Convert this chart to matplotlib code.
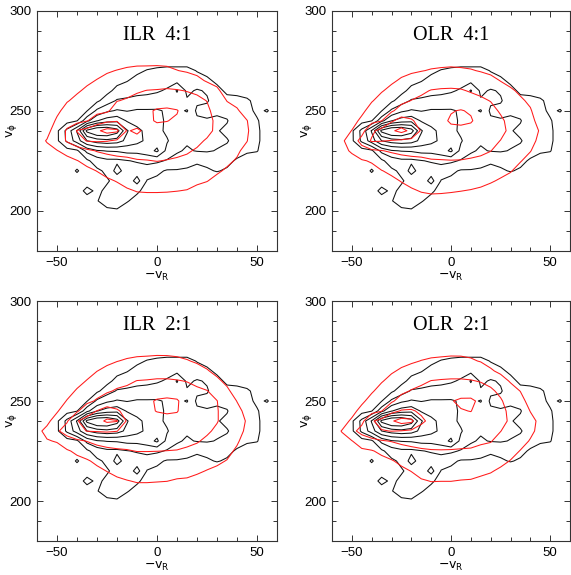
import numpy as np
import matplotlib
matplotlib.use("Agg")
import matplotlib.pyplot as plt
from matplotlib.ticker import MultipleLocator

# ---------------- data ----------------
# observed (black) density grid: x = -v_R, y = v_phi
obs_x = list(range(-60, 61, 5))
obs_y = list(range(195, 281, 5))
obs_density = [
    [0]*25,
    [0,0,0,0,0,0,0,0.3,0.4,0.2,0,0,0,0,0,0,0,0,0,0,0,0,0,0,0],
    [0,0,0,0,0,0,0.45,0.9,0.9,0.55,0.3,0,0,0,0,0,0,0,0,0,0,0,0,0,0],
    [0,0,0,0,0,0.8,0.3,0.7,0.8,0.9,0.6,0.3,0,0,0,0,0,0,0,0,0,0,0,0,0],
    [0,0,0,0,0,0,0.2,0.4,0.8,0.8,1.9,0.45,0.3,0,0,0,0,0,0,0,0,0,0,0,0],
    [0,0,0,0,0.6,0,0.3,0.7,1.9,1.0,1.0,1.0,0.7,0.4,0.4,0.3,0.3,0.4,0.55,0.4,0,0,0,0,0],
    [0,0,0,0,0,0.3,1.0,1.3,1.3,1.45,1.6,1.8,1.7,1.4,1.2,1.0,0.6,0.7,0.8,0.7,0.4,0.2,0,0,0],
    [0,0,0,0.1,0.3,1.8,2.4,2.55,2.6,2.8,2.8,3.0,3.7,2.2,1.6,1.4,1.55,1.6,1.45,1.2,0.8,0.6,0.55,0,0],
    [0,0,0.3,1.7,3.0,4.5,5.0,5.2,5.0,4.2,3.8,3.3,3.0,2.6,1.9,1.6,1.6,1.7,1.7,1.6,1.0,0.8,0.7,0,0],
    [0,0,0.3,1.8,3.6,6.8,7.8,7.8,7.0,4.6,3.7,3.3,2.8,2.3,1.9,1.7,1.6,1.7,1.6,1.2,0.8,0.9,0.7,0,0],
    [0,0,0,0.1,0.45,2.2,3.45,4.0,4.2,3.4,3.2,2.9,2.7,2.4,2.0,1.8,1.7,1.6,1.7,1.6,0.6,0.8,0.6,0,0],
    [0,0,0,0,0,0.45,1.7,2.3,2.6,2.45,2.6,2.6,2.6,2.4,2.2,2.6,1.3,1.2,1.3,1.0,0.9,0.8,0.3,0.58,0],
    [0,0,0,0,0,0,0.3,1.0,1.6,1.7,1.8,1.8,1.9,2.0,2.0,1.6,1.7,1.6,1.0,0.8,0.7,0.6,0.3,0,0],
    [0,0,0,0,0,0,0,0.2,0.8,1.0,1.2,1.3,1.4,1.6,2.6,1.3,1.6,1.4,0.8,0.3,0.3,0.2,0,0,0],
    [0,0,0,0,0,0,0,0,0.2,0.45,0.8,0.9,1.0,1.2,1.2,1.2,0.9,0.7,0.3,0,0,0,0,0,0],
    [0,0,0,0,0,0,0,0,0,0,0.3,0.55,0.7,0.8,0.8,0.8,0.45,0.2,0,0,0,0,0,0,0],
    [0]*25,
    [0]*25,
]
obs_levels = [0.5, 1.5, 2.5, 3.5, 4.5, 5.5, 6.5]

# model (red) density grids
mod_x = list(range(-60, 51, 5))
mod_y = list(range(200, 281, 5))
mod_levels = [0.5, 1.5, 2.5, 3.5]

ilr41 = [
    [0]*23,
    [0,0,0,0,0,0,0,0,0,0.11,0.23,0.25,0.25,0.23,0.2,0.17,0.05,0,0,0,0,0,0],
    [0,0,0,0,0,0,0,0.1,0.23,0.41,0.53,0.55,0.55,0.54,0.51,0.47,0.35,0.25,0.05,0,0,0,0],
    [0,0,0,0,0,0,0.2,0.38,0.54,0.73,0.83,0.84,0.84,0.83,0.78,0.73,0.6,0.52,0.35,0.1,0,0,0],
    [0,0,0,0,0.17,0.32,0.52,0.75,0.91,1.05,1.14,1.16,1.16,1.13,1.07,1.0,0.8,0.65,0.58,0.42,0.1,0,0],
    [0,0,0.17,0.29,0.47,0.74,1.0,1.17,1.28,1.37,1.44,1.47,1.52,1.47,1.4,1.3,1.1,0.85,0.75,0.62,0.44,0,0],
    [0.1,0.29,0.47,0.73,1.1,1.32,1.55,1.67,1.75,1.73,1.85,1.85,1.8,1.75,1.7,1.6,1.4,1.1,0.95,0.75,0.6,0.3,0],
    [0.2,0.55,0.94,1.6,2.07,2.55,2.6,2.55,2.38,2.1,2.3,2.2,2.1,2.0,1.9,1.85,1.7,1.4,1.15,0.85,0.7,0.52,0],
    [0.1,0.26,0.94,1.6,2.55,2.84,3.35,3.8,3.65,2.45,2.6,2.35,2.3,2.25,2.1,2.0,1.9,1.75,1.3,0.95,0.75,0.56,0.2],
    [0,0,0.63,1.17,1.15,1.45,1.95,2.3,2.42,2.14,2.2,2.4,2.55,2.52,2.4,2.1,1.95,1.8,1.3,0.95,0.75,0.52,0],
    [0,0,0.32,0.8,0.95,1.21,1.25,1.35,1.94,1.86,1.95,2.35,2.6,2.65,2.55,2.1,1.95,1.65,1.2,0.75,0.58,0.2,0],
    [0,0,0,0.44,0.7,0.93,1.07,1.18,1.47,1.58,1.72,1.9,2.05,2.1,2.0,1.8,1.7,1.48,0.95,0.48,0.3,0,0],
    [0,0,0,0.14,0.4,0.64,0.8,0.93,1.15,1.27,1.42,1.52,1.55,1.6,1.55,1.47,1.35,1.0,0.62,0.2,0,0,0],
    [0,0,0,0,0.11,0.35,0.54,0.68,0.83,0.93,1.04,1.09,1.1,1.12,1.08,1.0,0.7,0.42,0.3,0,0,0,0],
    [0,0,0,0,0,0.05,0.25,0.43,0.52,0.6,0.65,0.66,0.67,0.65,0.52,0.4,0.3,0.1,0,0,0,0,0],
    [0,0,0,0,0,0,0,0.13,0.22,0.29,0.32,0.32,0.33,0.3,0.2,0.05,0,0,0,0,0,0,0],
    [0]*23,
]

olr41 = [
    [0]*23,
    [0,0,0,0,0,0,0,0,0.11,0.24,0.3,0.28,0.25,0.2,0.16,0.08,0,0,0,0,0,0,0],
    [0,0,0,0,0,0,0.02,0.23,0.41,0.54,0.59,0.58,0.55,0.51,0.46,0.38,0.26,0.12,0,0,0,0,0],
    [0,0,0,0,0,0.17,0.32,0.54,0.71,0.82,0.86,0.85,0.84,0.8,0.77,0.7,0.57,0.42,0.25,0,0,0,0],
    [0,0,0,0.12,0.23,0.47,0.67,0.89,1.02,1.1,1.15,1.15,1.15,1.12,1.08,1.0,0.85,0.7,0.55,0.25,0,0,0],
    [0,0,0.26,0.42,0.58,0.96,1.11,1.24,1.32,1.39,1.44,1.46,1.48,1.47,1.42,1.35,1.15,0.95,0.75,0.54,0.26,0,0],
    [0,0.3,0.59,1.1,1.35,1.47,1.59,1.68,1.72,1.69,1.8,1.8,1.8,1.78,1.72,1.65,1.52,1.2,0.95,0.7,0.53,0.15,0],
    [0.05,0.36,0.95,1.84,2.6,2.55,2.46,2.36,2.28,2.01,2.05,2.05,2.1,2.05,2.0,1.9,1.75,1.48,1.15,0.85,0.65,0.38,0],
    [0,0.15,0.52,1.14,2.3,2.84,3.38,3.75,3.3,2.4,2.25,2.25,2.3,2.25,2.15,2.0,1.9,1.75,1.3,1.0,0.75,0.45,0.1],
    [0,0,0.2,0.68,1.22,1.47,2.36,2.88,2.6,2.19,2.15,2.3,2.6,2.7,2.6,2.1,1.9,1.65,1.25,0.9,0.66,0.3,0],
    [0,0,0,0.32,0.82,1.12,1.37,1.86,2.04,1.93,1.98,2.2,2.45,2.55,2.4,1.95,1.75,1.4,1.05,0.75,0.56,0.1,0],
    [0,0,0,0,0.44,0.78,1.03,1.29,1.52,1.67,1.78,1.9,2.0,2.0,1.85,1.65,1.47,1.1,0.85,0.6,0.38,0,0],
    [0,0,0,0,0.14,0.44,0.7,0.95,1.13,1.35,1.54,1.6,1.62,1.58,1.42,1.3,1.1,0.8,0.6,0.38,0.08,0,0],
    [0,0,0,0,0,0.14,0.38,0.6,0.75,0.9,1.05,1.1,1.12,1.1,1.0,0.87,0.7,0.48,0.3,0.08,0,0,0],
    [0,0,0,0,0,0,0.08,0.29,0.4,0.47,0.55,0.6,0.62,0.6,0.55,0.45,0.35,0.2,0,0,0,0,0],
    [0,0,0,0,0,0,0,0,0.1,0.17,0.26,0.27,0.3,0.27,0.24,0.15,0.05,0,0,0,0,0,0],
    [0]*23,
]

ilr21 = [
    [0]*23,
    [0,0,0,0,0,0,0,0,0.07,0.17,0.25,0.25,0.23,0.2,0.13,0.1,0,0,0,0,0,0,0],
    [0,0,0,0,0,0,0,0.2,0.37,0.47,0.55,0.55,0.53,0.51,0.43,0.4,0.3,0.17,0.07,0,0,0,0],
    [0,0,0,0,0,0.11,0.31,0.52,0.69,0.8,0.84,0.85,0.84,0.81,0.75,0.72,0.6,0.47,0.37,0.17,0,0,0],
    [0,0,0,0.1,0.27,0.41,0.67,0.9,1.04,1.1,1.15,1.17,1.15,1.14,1.1,1.05,0.92,0.75,0.62,0.47,0.08,0,0],
    [0,0.1,0.22,0.4,0.67,0.93,1.16,1.3,1.38,1.45,1.52,1.52,1.51,1.49,1.47,1.4,1.25,1.05,0.85,0.7,0.38,0,0],
    [0.2,0.45,0.55,1.07,1.36,1.53,1.74,1.85,1.9,1.8,1.8,1.85,1.82,1.8,1.75,1.65,1.57,1.35,1.05,0.85,0.6,0.15,0],
    [0.31,0.7,1.37,1.92,2.3,2.52,2.55,2.58,2.52,2.15,2.15,2.2,2.15,2.1,2.05,1.9,1.8,1.62,1.35,1.0,0.68,0.4,0],
    [0.1,0.32,0.87,1.41,2.45,2.82,3.2,3.65,3.55,2.4,2.4,2.35,2.3,2.25,2.2,2.05,1.95,1.8,1.55,1.15,0.75,0.45,0.1],
    [0,0,0.42,0.98,1.38,2.1,2.53,2.88,2.6,2.25,2.3,2.4,2.52,2.6,2.55,2.1,1.95,1.85,1.55,1.15,0.7,0.3,0],
    [0,0,0.12,0.54,0.98,1.29,1.6,1.98,2.07,1.95,2.1,2.3,2.6,2.68,2.6,2.05,1.85,1.75,1.52,0.95,0.48,0.05,0],
    [0,0,0,0.23,0.58,0.91,1.19,1.39,1.6,1.68,1.82,1.95,2.05,2.1,2.05,1.8,1.65,1.53,1.15,0.65,0.15,0,0],
    [0,0,0,0,0.26,0.54,0.84,1.04,1.21,1.35,1.52,1.55,1.6,1.6,1.55,1.47,1.3,1.08,0.65,0.32,0,0,0],
    [0,0,0,0,0,0.23,0.49,0.68,0.85,0.96,1.08,1.12,1.15,1.15,1.1,1.0,0.8,0.56,0.3,0,0,0,0],
    [0,0,0,0,0,0,0.19,0.35,0.48,0.58,0.65,0.67,0.7,0.7,0.65,0.55,0.4,0.25,0,0,0,0,0],
    [0,0,0,0,0,0,0,0.05,0.18,0.26,0.3,0.32,0.34,0.33,0.3,0.22,0.1,0,0,0,0,0,0],
    [0]*23,
]

olr21 = [
    [0]*23,
    [0,0,0,0,0,0,0,0,0,0.13,0.22,0.2,0.2,0.17,0.15,0.05,0,0,0,0,0,0,0],
    [0,0,0,0,0,0,0,0.02,0.2,0.43,0.52,0.51,0.51,0.47,0.45,0.35,0.25,0.07,0,0,0,0,0],
    [0,0,0,0,0,0,0.13,0.32,0.52,0.75,0.83,0.84,0.82,0.78,0.75,0.66,0.56,0.37,0.17,0,0,0,0],
    [0,0,0,0.05,0.14,0.27,0.43,0.69,0.89,1.08,1.13,1.14,1.13,1.1,1.08,0.98,0.87,0.7,0.47,0.17,0,0,0],
    [0,0,0.17,0.35,0.44,0.68,0.95,1.15,1.29,1.4,1.45,1.46,1.45,1.42,1.4,1.3,1.2,0.95,0.75,0.47,0.1,0,0],
    [0.1,0.3,0.47,0.93,1.19,1.43,1.54,1.69,1.77,1.79,1.8,1.8,1.8,1.78,1.74,1.62,1.55,1.2,0.95,0.75,0.45,0,0],
    [0.2,0.53,1.22,1.84,2.3,2.45,2.52,2.47,2.35,2.21,2.1,2.1,2.1,2.05,2.0,1.9,1.8,1.52,1.15,0.9,0.65,0.3,0],
    [0,0.2,0.62,1.25,2.4,2.81,3.4,3.85,3.7,2.65,2.3,2.25,2.25,2.25,2.2,2.05,1.95,1.8,1.35,1.05,0.7,0.35,0],
    [0,0,0.26,0.75,1.19,1.47,2.25,2.57,2.59,2.37,2.25,2.3,2.4,2.45,2.52,2.2,1.95,1.75,1.3,0.95,0.48,0.1,0],
    [0,0,0,0.35,0.78,1.12,1.37,1.84,2.04,2.03,2.05,2.2,2.45,2.65,2.68,2.3,1.85,1.6,1.1,0.78,0.2,0,0],
    [0,0,0,0.05,0.41,0.78,1.05,1.32,1.55,1.7,1.8,1.9,2.0,2.1,2.05,1.85,1.65,1.3,0.85,0.48,0,0,0],
    [0,0,0,0,0.11,0.44,0.73,0.96,1.16,1.34,1.52,1.57,1.6,1.6,1.55,1.45,1.25,0.85,0.42,0.2,0,0,0],
    [0,0,0,0,0,0.14,0.41,0.61,0.78,0.93,1.07,1.1,1.13,1.13,1.1,0.98,0.6,0.33,0.12,0,0,0,0],
    [0,0,0,0,0,0,0.11,0.29,0.4,0.52,0.6,0.64,0.67,0.67,0.6,0.45,0.25,0.05,0,0,0,0,0],
    [0,0,0,0,0,0,0,0,0.1,0.22,0.28,0.3,0.33,0.32,0.27,0.15,0,0,0,0,0,0,0],
    [0]*23,
]

panel_titles = ["ILR  4:1", "OLR  4:1", "ILR  2:1", "OLR  2:1"]
panel_models = [ilr41, olr41, ilr21, olr21]

x_range = (-60, 60)
y_range = (180, 300)
x_major = [-50, 0, 50]
y_major = [200, 250, 300]

# ---------------- figure ----------------
W, H = 571, 575
fig = plt.figure(figsize=(W / 100, H / 100), dpi=100)

def rect(left, top, width, height):
    return [left / W, (H - top - height) / H, width / W, height / H]

rects = [rect(37, 10.5, 240, 240.5), rect(332, 10.5, 238, 240.5),
         rect(37, 301, 240, 240), rect(332, 301, 238, 240)]

tick_font = dict(family="Liberation Sans", size=9.5)

for r, title, model in zip(rects, panel_titles, panel_models):
    ax = fig.add_axes(r)
    ax.contour(obs_x, obs_y, np.array(obs_density), levels=obs_levels,
               colors="#111111", linewidths=0.75)
    ax.contour(mod_x, mod_y, np.array(model), levels=mod_levels,
               colors="#ff1a1a", linewidths=0.75)
    ax.set_xlim(*x_range)
    ax.set_ylim(*y_range)
    ax.set_xticks(x_major)
    ax.set_yticks(y_major)
    ax.xaxis.set_minor_locator(MultipleLocator(10))
    ax.yaxis.set_minor_locator(MultipleLocator(10))
    ax.tick_params(which="both", direction="in", top=True, right=True,
                   width=0.7, color="#333333")
    ax.tick_params(which="major", length=4.5, pad=4)
    ax.tick_params(which="minor", length=2.8)
    ax.set_xticklabels(["\u221250", "0", "50"], **tick_font)
    ax.set_yticklabels(["200", "250", "300"], **tick_font)
    for s in ax.spines.values():
        s.set_linewidth(0.8)
        s.set_color("#333333")
    ax.text(0, 287.5, title, ha="center", va="center",
            family="Liberation Serif", fontsize=14.5)
    ax.set_xlabel(r"$\mathregular{-v_R}$", fontsize=9, labelpad=1)
    ax.set_ylabel(r"$\mathregular{v_\phi}$", fontsize=9)
    ax.yaxis.set_label_coords(-0.075, 0.5)

fig.savefig("out.png", dpi=100)
